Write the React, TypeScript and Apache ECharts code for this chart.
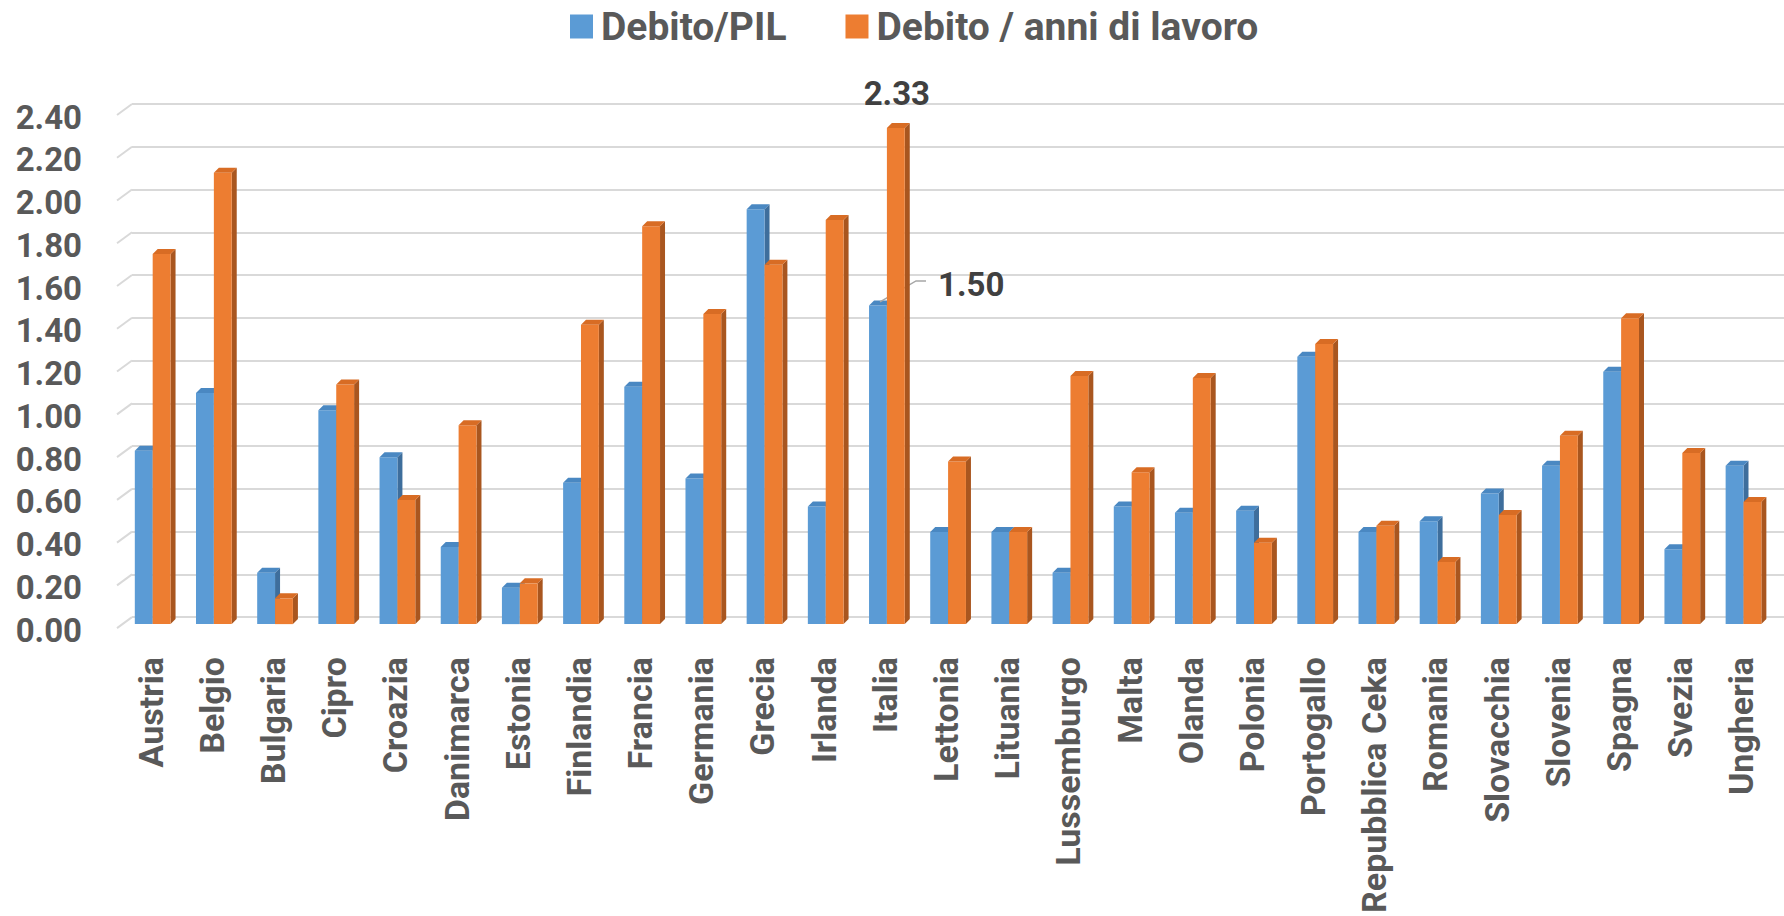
import React, { useEffect, useRef } from "react";
import * as echarts from "echarts";

const CATEGORIES = [
  "Austria", "Belgio", "Bulgaria", "Cipro", "Croazia", "Danimarca", "Estonia",
  "Finlandia", "Francia", "Germania", "Grecia", "Irlanda", "Italia", "Lettonia",
  "Lituania", "Lussemburgo", "Malta", "Olanda", "Polonia", "Portogallo",
  "Repubblica Ceka", "Romania", "Slovacchia", "Slovenia", "Spagna", "Svezia", "Ungheria",
];
const DEBITO_PIL = [
  0.82, 1.09, 0.25, 1.01, 0.79, 0.37, 0.18, 0.67, 1.12, 0.69, 1.95, 0.56, 1.5, 0.44,
  0.44, 0.25, 0.56, 0.53, 0.54, 1.26, 0.44, 0.49, 0.62, 0.75, 1.19, 0.36, 0.75,
];
const DEBITO_LAVORO = [
  1.74, 2.12, 0.13, 1.13, 0.59, 0.94, 0.2, 1.41, 1.87, 1.46, 1.69, 1.9, 2.33, 0.77,
  0.44, 1.17, 0.72, 1.16, 0.39, 1.32, 0.47, 0.3, 0.52, 0.89, 1.44, 0.81, 0.58,
];
const Y_TICKS = [0, 0.2, 0.4, 0.6, 0.8, 1.0, 1.2, 1.4, 1.6, 1.8, 2.0, 2.2, 2.4];
const SERIES_NAMES = ["Debito/PIL", "Debito / anni di lavoro"];
const LABELLED_CATEGORY = "Italia";

const FONT = "Roboto, 'Open Sans', sans-serif";
const GRID_COLOR = "#d9d9d9";
const TEXT_COLOR = "#595959";

function make3DBar(front: string, top: string, side: string, offsetFrac: number, labelMode: "above" | "leader") {
  return (params: any, api: any) => {
    const i = api.value(0);
    const v = api.value(1);
    const band = api.size([1, 0])[0];
    const c = api.coord([i, v]);
    const z = api.coord([i, 0]);
    const w = band * 0.292;
    const dx = 5;
    const dy = 5;
    const x = c[0] + band * offsetFrac;
    const back = c[1] + 4;
    const ft = back + dy;
    const base = z[1] + 7;
    const children: any[] = [
      {
        type: "polygon",
        shape: { points: [[x + w, ft], [x + w + dx, ft - dy], [x + w + dx, base - dy], [x + w, base]] },
        style: { fill: side },
      },
      {
        type: "rect",
        shape: { x, y: ft, width: w, height: base - ft },
        style: { fill: front },
      },
      {
        type: "polygon",
        shape: { points: [[x, ft], [x + dx, ft - dy], [x + w + dx, ft - dy], [x + w, ft]] },
        style: { fill: top },
      },
    ];
    if (CATEGORIES[i] === LABELLED_CATEGORY) {
      const txt = Number(v).toFixed(2);
      if (labelMode === "above") {
        children.push({
          type: "text",
          style: {
            text: txt, x: x + w / 2 + 1, y: back - 29,
            fontFamily: FONT, fontSize: 33, fontWeight: "bold", fill: "#404040",
            align: "center", verticalAlign: "middle",
          },
        });
      } else {
        children.push({
          type: "polyline",
          shape: { points: [[x + 11, back + 1.5], [x + 47, back - 19.5], [x + 57, back - 19.5]] },
          style: { stroke: "#a6a6a6", lineWidth: 1.5, fill: null },
        });
        children.push({
          type: "text",
          style: {
            text: txt, x: x + 69, y: back - 16,
            fontFamily: FONT, fontSize: 33, fontWeight: "bold", fill: "#404040",
            align: "left", verticalAlign: "middle",
          },
        });
      }
    }
    return { type: "group", children };
  };
}

export default function App() {
  const ref = useRef<HTMLDivElement>(null);
  useEffect(() => {
    if (!ref.current) return;
    const chart = echarts.init(ref.current, undefined, { renderer: "svg" });
    chart.setOption({
      animation: false,
      backgroundColor: "#ffffff",
      legend: {
        data: [
          { name: SERIES_NAMES[0], icon: "rect", itemStyle: { color: "#5B9BD5" } },
          { name: SERIES_NAMES[1], icon: "rect", itemStyle: { color: "#ED7D31" } },
        ],
        left: 565,
        top: 2,
        itemWidth: 23,
        itemHeight: 24,
        itemGap: 59,
        selectedMode: false,
        textStyle: { fontFamily: FONT, fontSize: 39, fontWeight: "bold", color: TEXT_COLOR, padding: [0, 0, 0, 3] },
      },
      grid: { left: 132, top: 104, width: 1667, height: 521, containLabel: false },
      xAxis: {
        type: "category",
        data: CATEGORIES,
        axisLine: { show: false },
        axisTick: { show: false },
        splitLine: { show: false },
        axisLabel: {
          interval: 0,
          rotate: 90,
          margin: 40,
          fontFamily: FONT,
          fontSize: 34,
          fontWeight: "bold",
          color: TEXT_COLOR,
          verticalAlign: "bottom",
          lineHeight: 24,
        },
      },
      yAxis: {
        type: "value",
        min: 0,
        max: 2.4,
        interval: 0.2,
        axisLine: { show: false },
        axisTick: { show: false },
        splitLine: { lineStyle: { color: GRID_COLOR, width: 2 } },
        axisLabel: {
          margin: 50,
          fontFamily: FONT,
          fontSize: 33,
          fontWeight: "bold",
          color: TEXT_COLOR,
          verticalAlign: "top",
          lineHeight: 26,
          formatter: (val: number) => val.toFixed(2),
        },
      },
      series: [
        {
          type: "custom",
          name: "wall",
          silent: true,
          z: 1,
          data: Y_TICKS.map((t) => [0, t]),
          renderItem: (params: any, api: any) => {
            const cs = params.coordSys;
            const p = api.coord([0, api.value(1)]);
            return {
              type: "line",
              shape: { x1: cs.x - 15, y1: p[1] + 11, x2: cs.x, y2: p[1] },
              style: { stroke: GRID_COLOR, lineWidth: 2 },
            };
          },
        },
        {
          type: "custom",
          name: SERIES_NAMES[0],
          z: 2,
          itemStyle: { color: "#5B9BD5" },
          data: DEBITO_PIL.map((v, i) => [i, v]),
          renderItem: make3DBar("#5B9BD5", "#4A88C2", "#3E6E9C", -0.454, "leader"),
        },
        {
          type: "custom",
          name: SERIES_NAMES[1],
          z: 3,
          itemStyle: { color: "#ED7D31" },
          data: DEBITO_LAVORO.map((v, i) => [i, v]),
          renderItem: make3DBar("#ED7D31", "#D86C24", "#A9561F", -0.162, "above"),
        },
      ],
    });
    return () => chart.dispose();
  }, []);
  return (
    <div
      ref={ref}
      style={{ position: "fixed", left: 0, top: 0, width: 1784, height: 916, background: "#fff" }}
    />
  );
}
